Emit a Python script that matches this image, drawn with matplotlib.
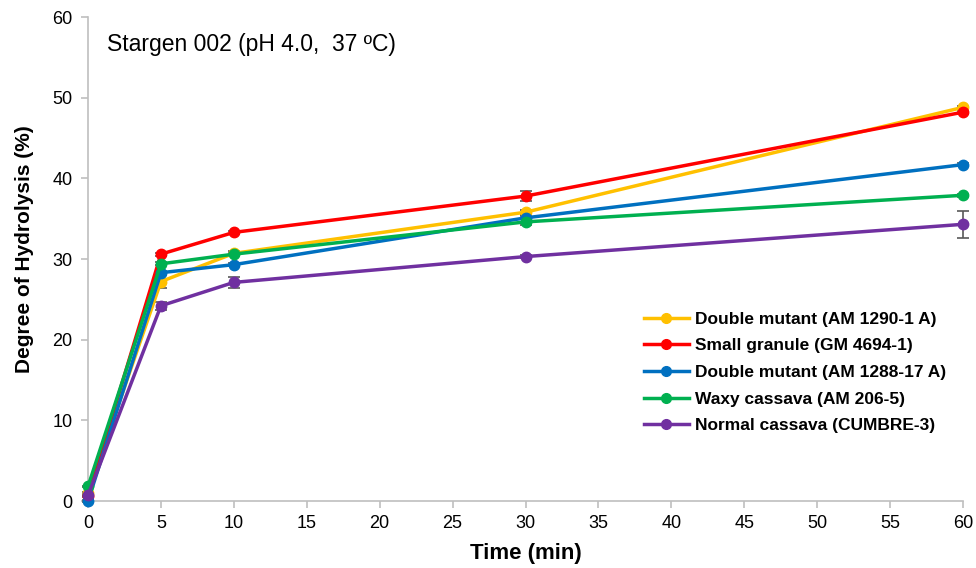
import matplotlib
matplotlib.use("Agg")
import matplotlib.pyplot as plt
from matplotlib.lines import Line2D

plt.rcParams['font.family'] = ['Liberation Sans', 'DejaVu Sans']

time = [0, 5, 10, 30, 60]
labels = ["Double mutant (AM 1290-1 A)", "Small granule (GM 4694-1)",
          "Double mutant (AM 1288-17 A)", "Waxy cassava (AM 206-5)",
          "Normal cassava (CUMBRE-3)"]
colors = ["#FFC000", "#FF0000", "#0070C0", "#00B050", "#7030A0"]
yellow = [1.0, 27.2, 30.7, 35.8, 48.8]
red = [0.6, 30.6, 33.3, 37.8, 48.2]
blue = [0.0, 28.3, 29.3, 35.1, 41.7]
green = [1.8, 29.4, 30.6, 34.6, 37.9]
purple = [0.7, 24.2, 27.1, 30.3, 34.3]
yellow_err = [0.1, 0.8, 0.3, 0.3, 0.2]
red_err = [0.1, 0.2, 0.2, 0.6, 0.2]
blue_err = [0.1, 0.2, 0.2, 0.2, 0.2]
green_err = [0.1, 0.2, 0.2, 0.4, 0.2]
purple_err = [0.1, 0.5, 0.7, 0.2, 1.7]
series = [yellow, red, blue, green, purple]
errs = [yellow_err, red_err, blue_err, green_err, purple_err]

fig = plt.figure(figsize=(9.76, 5.68), dpi=100)
ax = fig.add_axes([88/976, 1-501/568, (963-88)/976, (501-17)/568])

handles = []
for y, e, c, lab in zip(series, errs, colors, labels):
    ax.errorbar(time, y, yerr=e, color=c, lw=2.5, marker='o', ms=7.5,
                ecolor='#595959', elinewidth=1.2, capsize=4, capthick=1.2,
                zorder=3)
    handles.append(Line2D([], [], color=c, lw=2.5, marker='o', ms=7, label=lab))

ax.set_xlim(0, 60)
ax.set_ylim(0, 60)
ax.set_xticks(range(0, 61, 5))
ax.set_yticks(range(0, 61, 10))
for s in ['top', 'right']:
    ax.spines[s].set_visible(False)
for s in ['left', 'bottom']:
    ax.spines[s].set_color('#BFBFBF')
    ax.spines[s].set_linewidth(1.2)
ax.tick_params(axis='x', colors='#BFBFBF', labelcolor='black', labelsize=13, length=5, width=1.2, pad=5)
ax.tick_params(axis='y', colors='#BFBFBF', labelcolor='black', labelsize=13, length=5, width=1.2, pad=6)
ax.set_xlabel("Time (min)", fontsize=16, fontweight='bold', labelpad=8)
ax.set_ylabel("Degree of Hydrolysis (%)", fontsize=15, fontweight='bold')
ax.yaxis.set_label_coords(-0.062, 0.52)
for c in ax.collections + ax.lines:
    c.set_clip_on(False)

fig.text(107/976, 1-45/568, "Stargen 002 (pH 4.0,  37 ºC)",
         fontsize=16.5, va='center', ha='left')

leg = ax.legend(handles=handles, loc='upper left', bbox_to_anchor=(628/976, 1-296/568),
                bbox_transform=fig.transFigure, frameon=False,
                prop={'weight': 'bold', 'size': 12.5}, handlelength=2.6,
                labelspacing=0.66, handletextpad=0.35)

fig.savefig("out.png", dpi=100)
